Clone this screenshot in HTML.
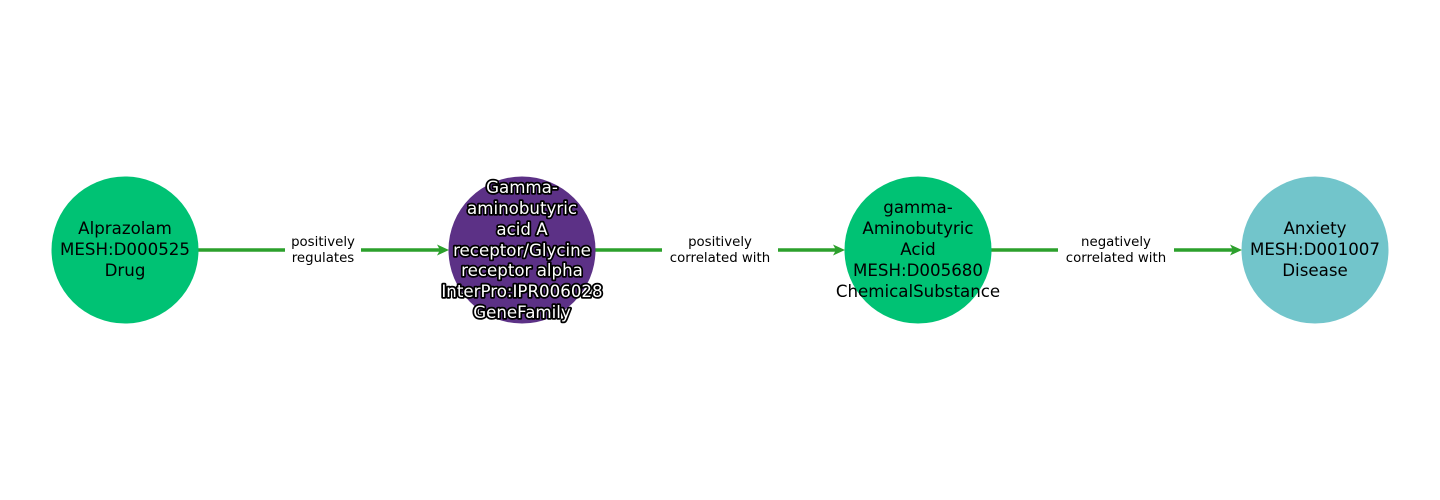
<!DOCTYPE html>
<html><head><meta charset="utf-8"><style>
html,body{margin:0;padding:0;background:#fff;width:1440px;height:500px;overflow:hidden}
svg{display:block}
.n{font-family:"DejaVu Sans","Liberation Sans",sans-serif;font-size:16.67px;fill:#000;text-anchor:middle}
.w{fill:#fff;stroke:#000;stroke-width:3.5px;paint-order:stroke;stroke-linejoin:round}
.e{font-family:"DejaVu Sans","Liberation Sans",sans-serif;font-size:13.33px;fill:#000;text-anchor:middle}
</style></head><body>
<svg width="1440" height="500" viewBox="0 0 1440 500">
<g stroke="#2ca02c" stroke-width="3.5" fill="none">
<line x1="198" y1="250" x2="443" y2="250"/>
<line x1="595" y1="250" x2="840" y2="250"/>
<line x1="991" y1="250" x2="1236" y2="250"/>
</g>
<g fill="#2ca02c">
<polygon points="449,250 437,244.5 440,250 437,255.5"/>
<polygon points="845,250 833,244.5 836,250 833,255.5"/>
<polygon points="1242,250 1230,244.5 1233,250 1230,255.5"/>
</g>
<rect x="285" y="232" width="76" height="36" fill="#fff"/>
<rect x="662" y="232" width="116" height="36" fill="#fff"/>
<rect x="1058" y="232" width="116" height="36" fill="#fff"/>
<text class="e" x="323" y="246">positively</text>
<text class="e" x="323" y="262">regulates</text>
<text class="e" x="720" y="246">positively</text>
<text class="e" x="720" y="262">correlated with</text>
<text class="e" x="1116" y="246">negatively</text>
<text class="e" x="1116" y="262">correlated with</text>
<circle cx="125" cy="250" r="73.5" fill="#00c274"/>
<circle cx="522" cy="250" r="73.5" fill="#5c3186"/>
<circle cx="918" cy="250" r="73.5" fill="#00c274"/>
<circle cx="1315" cy="250" r="73.5" fill="#72c5cb"/>
<text class="n" x="125" y="234">Alprazolam</text>
<text class="n" x="125" y="255">MESH:D000525</text>
<text class="n" x="125" y="276">Drug</text>
<g class="n w">
<text x="522" y="193">Gamma-</text>
<text x="522" y="214">aminobutyric</text>
<text x="522" y="235">acid A</text>
<text x="522" y="256">receptor/Glycine</text>
<text x="522" y="276">receptor alpha</text>
<text x="522" y="297">InterPro:IPR006028</text>
<text x="522" y="318">GeneFamily</text>
</g>
<text class="n" x="918" y="213">gamma-</text>
<text class="n" x="918" y="234">Aminobutyric</text>
<text class="n" x="918" y="255">Acid</text>
<text class="n" x="918" y="276">MESH:D005680</text>
<text class="n" x="918" y="297">ChemicalSubstance</text>
<text class="n" x="1315" y="234">Anxiety</text>
<text class="n" x="1315" y="255">MESH:D001007</text>
<text class="n" x="1315" y="276">Disease</text>
</svg>
</body></html>
